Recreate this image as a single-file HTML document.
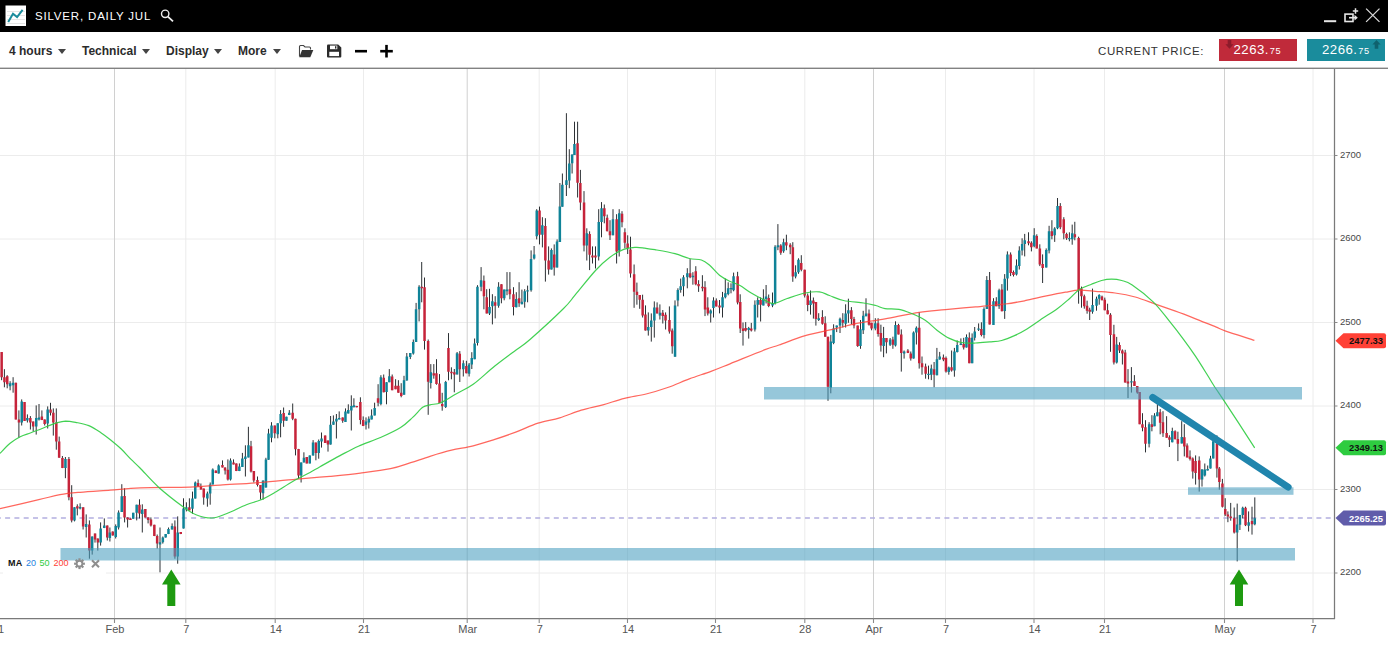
<!DOCTYPE html>
<html><head><meta charset="utf-8"><title>Silver chart</title>
<style>
html,body{margin:0;padding:0;background:#fff;}
body{width:1388px;height:646px;position:relative;overflow:hidden;font-family:"Liberation Sans",sans-serif;}
.titlebar{position:absolute;left:0;top:0;width:1388px;height:32px;background:#000;}
.title{position:absolute;left:35px;top:9px;font-size:11.5px;line-height:14px;color:#fff;letter-spacing:0.82px;white-space:nowrap;}
.toolbar{position:absolute;left:0;top:32px;width:1388px;height:35px;background:#fff;border-bottom:1px solid #cdcdcd;box-shadow:0 1px 0 #828282;}
.tb{position:absolute;top:12px;font-size:12px;line-height:14px;font-weight:bold;color:#2b2b2b;white-space:nowrap;}
.caret{position:absolute;top:16.5px;width:0;height:0;border-left:4.3px solid transparent;border-right:4.3px solid transparent;border-top:5px solid #444;}
.cp{position:absolute;left:1098px;top:12px;font-size:11.5px;line-height:14px;color:#333;letter-spacing:0.6px;white-space:nowrap;}
.pbox{position:absolute;top:39px;height:22px;width:78px;color:#fff;}
.pbox span{position:absolute;white-space:nowrap;}
.yl{font-size:9.5px;fill:#484848;font-family:"Liberation Sans",sans-serif;}
.xl{font-size:11px;fill:#555;font-family:"Liberation Sans",sans-serif;}
.pt{font-size:9.4px;font-weight:bold;font-family:"Liberation Sans",sans-serif;}
.legend{position:absolute;left:3px;top:561px;width:103px;height:14px;background:#fff;font-size:9px;line-height:10px;}
.legend span{position:absolute;top:-3.3px;white-space:nowrap;}
</style></head><body>
<svg width="1388" height="646" viewBox="0 0 1388 646" style="position:absolute;left:0;top:0">
<path d="M0 155.5H1334.5M0 239H1334.5M0 322.5H1334.5M0 406H1334.5M0 489.5H1334.5M0 573H1334.5" stroke="#ececec" stroke-width="1" fill="none"/>
<path d="M185.8 69V618.5M275.2 69V618.5M363.5 69V618.5M539.2 69V618.5M627.5 69V618.5M715.5 69V618.5M804.8 69V618.5M945.5 69V618.5M1034 69V618.5M1104.5 69V618.5M1313 69V618.5" stroke="#ececec" stroke-width="1" fill="none"/>
<path d="M114.5 69V618.5M467.2 69V618.5M873.5 69V618.5M1224.5 69V618.5" stroke="#d0d0d0" stroke-width="1" fill="none"/>
<path d="M0 518H1334.5" stroke="#b3aee0" stroke-width="1.3" stroke-dasharray="5 4.3" stroke-dashoffset="4.2" fill="none"/>
<path d="M1.6 352.1V380.2M4.4 369.2V387.3M7.2 375.2V388.3M10.1 381.2V390.3M13.1 377.2V392.7M15.9 382.7V419.5M18.9 410.4V437.6M21.7 399.4V425.5M24.5 402V420.9M27.4 414.4V422.5M30.4 416.1V429.5M33.2 421.5V431.5M36.2 405.4V434.6M39 404V420.5M41.9 410.4V420.1M44.7 419.5V425.5M47.7 406.4V428.5M50.5 402.8V415.5M53.3 408.4V435.6M56.3 408.4V449.7M59.2 436.6V457.7M62.4 456V468.1M65.4 457V478.2M68.9 457V500.3M71.7 485.2V522.4M74.5 507.3V521.4M77.3 504.3V515.4M80.1 503.3V509.4M83.1 507.3V529.5M86.2 514.4V537.5M89.4 520.4V558.7M92.2 536.5V554.6M95 533.5V542.6M97.8 538.5V550.6M100.6 522.4V545.6M104.3 518.4V528.1M107.3 525.5V540.5M109.9 527.5V541.5M112.7 531.5V535.5M115.7 524.4V538.5M118.6 510.4V529.5M121.8 484.2V512M124.6 488.2V522.4M127.6 517.4V527.5M130.4 518.4V520M133.2 512.8V518.8M136.7 504.7V520.4M139.5 499.3V518.4M142.3 504.3V532.5M145.3 509V517.4M148.1 517.4V523.4M150.9 517.4V526.5M154.4 524.8V536.1M157.2 534.5V548.6M160 527.5V572.3M162.8 536.5V543.6M165.6 534.1V537.5M168.5 527.5V534.1M172.1 523.4V529.5M174.9 520.4V558.7M177.7 516.4V563.7M180.7 532.1V534.1M183.5 498.3V528.5M186.4 502.3V511.4M189.4 498.3V510.4M192.5 491.6V513.7M195.3 481.5V498.6M198.1 479.5V486.5M200.9 483.5V489.6M203.7 488.6V504.7M207.4 491.6V506.7M210.2 482.5V504.7M212.8 468.4V484.5M215.8 470.5V473.1M218.6 464.4V473.5M222.5 460.4V467.4M225.1 467.4V474.5M227.9 459.4V480.5M230.5 458.4V480.5M233.5 459.4V464.4M236.3 463.4V471.1M239.4 463.4V471.1M242.4 452.9V467M245.4 445.3V476.5M248.4 426.8V457.4M251 440.9V472.5M253.8 471.1V482.5M257.5 476.5V486.5M260.5 485.1V499.6M263.1 480.5V499.6M265.9 457.8V487.6M268.5 428.8V459.8M271.5 422.2V442.3M274.8 425.6V438.3M277.8 423.2V438.3M280.6 410.1V437.3M283.6 407.5V426.8M286.4 416.7V420.8M289.3 410.1V415.1M292.7 403.5V420.2M295.5 418.7V455.4M298.5 448.9V478.5M301.1 462.4V482.5M303.9 452.3V462.4M306.8 457V463.4M309.8 455.4V463.4M313.1 440.1V455.6M315.9 442.6V460.3M318.7 439.5V458.7M321.5 432.5V447.6M325.2 435.5V443M328 440.5V451.6M330.6 416V444.6M333.4 415.4V424.8M336.4 414V438.5M339.2 411.4V419.4M342.7 417.4V422.8M345.5 408.4V422M348.3 404.3V413.4M351.3 395.3V430.5M353.9 398.3V407.3M356.7 405.9V407.3M360.4 397.3V424.4M363.2 416.4V426.1M366 417.4V429.5M368.8 416.4V428.5M371.6 409.4V419.4M374.6 402.7V415.4M378.1 384.2V406.3M380.9 375.2V405.3M383.7 374.5V392.3M386.5 382.2V404.3M389.3 369.1V382.2M392.2 374.5V390.2M395.6 379.2V389.2M398.4 380.2V392.7M401.2 383.2V397.3M404 375.8V394.7M406.8 353V380.6M410.3 353V359.1M413.3 339.5V354.6M416.1 302.9V341.9M419.1 285.2V321.4M421.7 262V302.3M424.5 277.5V349.6M428.2 339.5V414.8M430.8 364.1V388.5M433.8 364.1V378.7M436.5 359.2V384.7M439.5 374.1V403.1M442.2 392.8V410.7M445.7 380.9V408M448.5 333.1V380.3M451.4 367.3V379.3M454.3 369V392.3M457.1 352V374.4M459.8 351.1V382M463.3 360.3V376.5M466.4 360.8V373.3M469.1 363V376.5M471.8 352.2V369M474.6 338.5V359.2M477.5 285.2V345.5M481.1 267.1V291.2M483.9 275.5V309.3M486.7 289.2V313.4M489.5 288.8V315M492.4 294.2V324.4M495.2 296.2V318.4M498.6 282.2V307.7M501.4 284.2V303.3M504.2 289.6V300.3M507 272.1V295.2M509.9 272.1V299.3M513.5 287.2V315.4M516.3 292.2V307.3M519.1 282.2V306.9M521.9 289.6V304.3M524.7 289.2V307.7M527.6 285.6V302.3M531.1 250.4V291.7M534.1 246V259.5M536.7 209.2V239.4M539.5 206.6V244.4M542.4 217.2V247.4M545.4 218.2V281.6M548.6 246.4V274.6M551.4 248.4V269.5M554.2 244.4V275.6M557.1 239.4V267.5M559.9 183V242M562.4 173.5V206.7M566.4 113.2V196M569.3 149.2V188.2M572.1 154.5V173.5M574.5 121.7V155M577.6 121.7V197.5M580.4 169.9V210.2M584 191.1V251.4M586.8 228.3V260.5M589.6 231.3V270.1M592.5 246.4V263.5M595.5 246.4V268.5M598.7 209.2V260.5M601.5 202.1V237.3M604.3 204.5V223.3M607.2 214.6V231.3M610 220.2V240M613 209.2V235.3M616.6 214.2V263.5M619.2 209.2V256.5M622 211.2V227.3M624.9 228.3V248.4M627.7 235.3V254M630.5 236.7V277.6M634.1 264.5V307.8M636.9 282.6V304.7M639.7 295.1V308.8M642.6 294.7V317.5M645.5 305.4V330.5M648.3 312.4V335.6M651.3 313.4V341.6M654.3 301.4V337.6M657.1 302.4V313.4M659.9 304.4V319.5M662.8 310V323.5M665.6 312.4V329.5M669.4 306.4V333.6M672.2 328.5V353.7M675 300.4V356.7M677.9 288.3V306.4M680.7 278.6V292.7M683.5 275.2V296.3M687.3 268.2V288.3M690.1 259.1V278.2M692.9 272.2V284.7M695.8 266.2V285.3M698.6 280.2V291.9M702.4 275.2V291.3M705 281.2V316.1M707.8 297.3V315.5M710.7 309.4V322.5M713.5 297.3V317.5M716.3 298.4V306.4M719.5 300V313.4M722.5 291.9V317.5M725.3 278.6V298.4M728.2 282.3V295.3M731 283.3V293.3M733.6 272.6V291.3M737.6 271.8V304.4M740.2 294.3V333M743 322.5V345.6M745.7 322.1V331.5M748.7 326.9V338.6M751.3 322.9V331.5M754.9 300.4V331.5M757.7 297.3V317.5M760.6 297.3V321.5M763.4 289.3V305.4M766.1 285V303.5M768.7 294.5V307.2M772.5 292.5V307.2M775.1 245.2V304.5M777.9 224.1V250.2M780.8 244.2V254.8M783.6 238.7V252.8M786.4 234.7V250.2M790.2 243.2V254.2M792.8 242.2V281.8M795.6 265.3V278.4M798.5 258.3V273.8M801.3 255.2V271.3M804.7 269.7V297.5M807.7 293.5V311.2M810.5 290.5V314.6M813.4 297.5V318.6M815.9 302.1V325.6M818.7 313.2V321M822.4 310.2V324.7M825.2 316.3V336.7M828 336.7V400.8M830.8 334.9V393.3M833.6 324.3V344.2M836.7 325.6V332.1M840 317.6V333M842.8 313.2V327.5M845.6 304.3V327.5M848.4 298.7V322.8M851.4 307.1V324.3M854 316.9V328.4M857.7 325.6V346.9M860.5 320V348.8M863.2 310.8V334M866 298.3V316.3M869 309.5V325.6M871.6 322.8V330.3M875.3 318.2V330.3M878.1 318.2V336.7M880.9 324.7V351.6M883.6 326.9V357.2M886.4 338V353.4M890.1 338V346M892.9 336.7V348.8M895.5 321.3V346.5M898.5 323.8V334.4M901.3 329.4V371.6M904.1 350.5V358.6M907.9 349.1V353.1M910.8 351.5V360.6M913.6 331.4V358.6M916.4 326.4V344.5M919.2 312.3V368.6M922 356.5V374.7M925.6 363.6V378.7M928.5 365.6V379.3M931.3 364.6V380.1M934.1 362V387.3M936.9 347.9V375.3M939.7 351.9V359.6M943.4 354.5V361.2M946 356.5V372.6M948.8 366.6V374.7M951.6 350.5V371.6M954.4 347.9V376.7M957.2 340.5V352.5M960.9 338.4V345.1M963.7 337.8V349.5M966.5 334.4V347.5M969.3 332.4V363.2M972.1 333.4V363.2M974.7 327V340.5M978.6 323.4V331M981.4 322.3V336.4M984 307.3V338.4M986.8 276.1V308.9M989.6 272V324.4M993.5 298.2V325M996.3 297.2V306.2M999.1 288.7V308.9M1001.9 284.1V311.3M1004.7 274.1V318.9M1007.4 251.4V290.6M1010.6 252.4V276.1M1013.5 270.5V276.5M1016.5 259.4V275.5M1019.3 246.3V269.5M1022.1 238.3V255.4M1024.7 233.9V256.4M1028.5 232.3V245.3M1031.4 241.3V251.4M1034.2 228.2V247.3M1036.8 234.3V248.4M1039.8 244.3V266.1M1042.6 254.4V283M1046.2 248.4V267.5M1049.1 225.8V253.4M1051.9 220.2V239.3M1054.7 227.2V241.9M1057.5 198V229.2M1060.3 203.1V229.2M1063.8 217.2V239.3M1066.6 232.7V239.9M1069.4 232.3V241.3M1072.2 224.6V244.7M1074.8 221.8V240.3M1078.6 236.7V303.7M1081.5 286.6V307.7M1084.3 294.6V308.7M1087.1 300.7V313.7M1089.7 307.7V320M1092.5 288.6V313.7M1096.5 296.6V310.7M1099.2 294.2V304.7M1102 295.6V300.3M1104.8 297.6V310.3M1107.6 303.7V314.3M1110.5 313.2V351.8M1113.9 324.8V364.5M1116.7 336.9V363.5M1119.5 342.3V353M1122.4 349.4V364.5M1125.2 349.8V382.6M1128 369.1V398.1M1131.4 367.1V392.6M1134.4 375.1V386M1137.3 386V393.7M1139.7 392V424.2M1142.5 413.2V431.3M1145.5 420.2V452.4M1149.1 422.2V447.4M1151.9 415.2V431.3M1154.5 413.2V426.2M1157.4 404.1V416.2M1160.2 409.1V434.3M1163 411.2V436.9M1166.6 416.2V437.7M1169.4 435.3V447M1172.3 427.7V442.3M1175.1 430.3V439.3M1177.9 431.7V461.1M1181.7 421.2V443.4M1184.3 424.2V456.4M1187.1 443.4V457.4M1190 450.4V460.5M1192.8 457.4V478.6M1195.6 455.4V484.6M1199.2 456.4V491.6M1202 469.1V486.6M1204.8 463.5V476.5M1207.7 465.5V470.5M1210.5 455.8V468.5M1213.3 440.3V458.4M1216.9 435.3V477.6M1219.3 467V489.7M1222.4 478.9V507.5M1225.2 498.2V516M1227.9 511.4V522.2M1230.7 502.9V520.7M1234.2 507.5V533.5M1237.2 503.6V561.4M1239.9 514.9V530M1242.7 506.7V518.3M1245.5 506.7V526.1M1248.6 511.4V531.5M1252 506.7V534.6M1254.8 497.4V525.3" stroke="#2c3034" stroke-width="1" fill="none"/>
<path d="M0.4 352.1h2.5V377.2h-2.5zM3.2 377.2h2.5V382.3h-2.5zM6 376.2h2.5V384.3h-2.5zM14.6 382.7h2.5V419.5h-2.5zM17.7 419.5h2.5V422.5h-2.5zM23.3 402h2.5V420.9h-2.5zM29.1 418.1h2.5V422.5h-2.5zM31.9 421.5h2.5V426.5h-2.5zM40.6 416.5h2.5V420.1h-2.5zM43.4 419.5h2.5V424.1h-2.5zM49.3 409.4h2.5V412.8h-2.5zM52.1 412.8h2.5V422.5h-2.5zM55.1 422.5h2.5V441.6h-2.5zM57.9 441.6h2.5V457.7h-2.5zM61.2 458h2.5V468.1h-2.5zM67.6 459.1h2.5V497.3h-2.5zM70.4 497.3h2.5V520.4h-2.5zM76.1 506.3h2.5V508.4h-2.5zM81.9 507.3h2.5V526.5h-2.5zM88.1 524.4h2.5V550.6h-2.5zM93.8 533.5h2.5V539.5h-2.5zM96.6 538.5h2.5V542.6h-2.5zM106 525.5h2.5V537.5h-2.5zM111.5 531.5h2.5V535.5h-2.5zM123.3 495.9h2.5V517.4h-2.5zM126.4 517.4h2.5V519.4h-2.5zM129.2 518.4h2.5V520h-2.5zM138.2 504.7h2.5V513.4h-2.5zM144.1 509h2.5V517.4h-2.5zM146.9 517.4h2.5V520h-2.5zM149.7 519.4h2.5V525.5h-2.5zM153.1 524.8h2.5V536.1h-2.5zM155.9 536.1h2.5V543.6h-2.5zM173.6 526.5h2.5V556.6h-2.5zM179.5 532.1h2.5V534.1h-2.5zM188.1 507.3h2.5V510.4h-2.5zM196.9 483.1h2.5V486.5h-2.5zM199.7 486.5h2.5V489.6h-2.5zM202.5 488.6h2.5V497.6h-2.5zM214.6 470.5h2.5V473.1h-2.5zM221.2 465h2.5V467.4h-2.5zM223.8 467.4h2.5V470.5h-2.5zM226.6 469.8h2.5V479.5h-2.5zM232.3 462.4h2.5V464.4h-2.5zM235.1 463.4h2.5V471.1h-2.5zM249.8 446.3h2.5V471.5h-2.5zM252.6 471.1h2.5V480.5h-2.5zM256.2 479.9h2.5V485.1h-2.5zM259.2 485.1h2.5V492.6h-2.5zM273.5 425.6h2.5V433.2h-2.5zM282.4 413.1h2.5V420.8h-2.5zM291.4 412.7h2.5V418.7h-2.5zM294.2 418.7h2.5V449.3h-2.5zM297.3 448.9h2.5V475.5h-2.5zM305.5 457h2.5V463.4h-2.5zM314.6 442.6h2.5V453h-2.5zM323.9 435.5h2.5V443h-2.5zM326.7 440.5h2.5V444.6h-2.5zM341.4 417.4h2.5V420.8h-2.5zM355.5 405.9h2.5V407.3h-2.5zM359.1 401.9h2.5V420h-2.5zM361.9 420h2.5V426.1h-2.5zM376.8 398.3h2.5V402.7h-2.5zM382.5 377.8h2.5V392.3h-2.5zM390.9 376.6h2.5V390.2h-2.5zM394.3 385.8h2.5V389.2h-2.5zM397.1 385.8h2.5V392.7h-2.5zM400 392.7h2.5V395.9h-2.5zM420.5 286.8h2.5V288.2h-2.5zM423.3 287.2h2.5V341.1h-2.5zM426.9 341.1h2.5V381.8h-2.5zM432.5 373.3h2.5V375.5h-2.5zM435.2 373.3h2.5V384.1h-2.5zM438.3 383.6h2.5V403.1h-2.5zM441 404h2.5V406.3h-2.5zM447.2 348h2.5V371.7h-2.5zM450.2 371.7h2.5V373.3h-2.5zM453.1 372.2h2.5V374.4h-2.5zM458.5 353.8h2.5V369.3h-2.5zM465.1 366h2.5V373.3h-2.5zM482.7 280.8h2.5V296.2h-2.5zM485.5 297.3h2.5V313.4h-2.5zM493.9 302.3h2.5V305.7h-2.5zM500.2 284.2h2.5V298.3h-2.5zM508.6 289.2h2.5V294.2h-2.5zM512.2 294.2h2.5V306.9h-2.5zM517.9 298.3h2.5V303.3h-2.5zM538.3 210.6h2.5V234.7h-2.5zM544.1 225.9h2.5V260.5h-2.5zM547.4 260.5h2.5V269.5h-2.5zM553 254.4h2.5V267.5h-2.5zM576.3 143.3h2.5V182.8h-2.5zM579.1 183h2.5V202.5h-2.5zM582.8 202.5h2.5V245.4h-2.5zM588.4 233.9h2.5V254.8h-2.5zM591.2 255.5h2.5V257.5h-2.5zM594.2 255.5h2.5V257.5h-2.5zM603.1 208.2h2.5V216.2h-2.5zM605.9 217.8h2.5V231.3h-2.5zM608.7 231.3h2.5V235.3h-2.5zM615.4 219.2h2.5V251.4h-2.5zM620.8 213.8h2.5V222.3h-2.5zM623.6 232.3h2.5V242.8h-2.5zM626.4 243.4h2.5V248h-2.5zM629.2 249.4h2.5V273.6h-2.5zM632.9 274.2h2.5V291.7h-2.5zM635.7 291.7h2.5V295.1h-2.5zM638.5 295.1h2.5V299.7h-2.5zM641.4 299.8h2.5V315.5h-2.5zM644.2 314.4h2.5V330.5h-2.5zM655.9 307.4h2.5V313.4h-2.5zM661.5 312.8h2.5V316.1h-2.5zM664.3 314.8h2.5V320.5h-2.5zM668.2 320.1h2.5V331.5h-2.5zM671 330.5h2.5V346.2h-2.5zM688.9 273.2h2.5V277.2h-2.5zM694.5 271.2h2.5V284.3h-2.5zM697.3 283.9h2.5V286.3h-2.5zM701.2 286.7h2.5V288.3h-2.5zM703.8 287.3h2.5V309.4h-2.5zM706.6 307.4h2.5V313.4h-2.5zM715 300.4h2.5V306.4h-2.5zM718.3 305.4h2.5V307.4h-2.5zM736.4 276.2h2.5V302.4h-2.5zM739 302h2.5V328.5h-2.5zM741.8 328.5h2.5V330.9h-2.5zM744.4 328.1h2.5V330.5h-2.5zM750 328.5h2.5V330.5h-2.5zM759.3 300h2.5V304.8h-2.5zM767.4 297.9h2.5V305.9h-2.5zM779.5 245.6h2.5V252.8h-2.5zM785.1 242.2h2.5V245.6h-2.5zM789 244.8h2.5V247.2h-2.5zM791.6 247.2h2.5V276.4h-2.5zM800 262.9h2.5V269.7h-2.5zM803.4 269.7h2.5V295.5h-2.5zM806.5 295.5h2.5V305.1h-2.5zM812.1 300.5h2.5V303.5h-2.5zM814.7 302.1h2.5V319.1h-2.5zM821.2 316.9h2.5V323.8h-2.5zM824 323.2h2.5V336.7h-2.5zM826.7 336.7h2.5V386.8h-2.5zM841.6 320h2.5V322.8h-2.5zM850.1 310.2h2.5V319.1h-2.5zM852.7 319.1h2.5V325.6h-2.5zM856.4 325.6h2.5V346h-2.5zM867.7 313.6h2.5V324.7h-2.5zM870.3 322.8h2.5V328.4h-2.5zM876.8 323.2h2.5V334h-2.5zM879.6 333h2.5V345.5h-2.5zM885.2 338h2.5V342.3h-2.5zM891.7 339.5h2.5V344.7h-2.5zM897.2 325h2.5V334.4h-2.5zM900 334.4h2.5V353.1h-2.5zM906.7 350.5h2.5V353.1h-2.5zM909.5 353.5h2.5V358.6h-2.5zM918 327.8h2.5V363.2h-2.5zM920.8 363.2h2.5V367.2h-2.5zM924.4 366.6h2.5V373.7h-2.5zM932.8 369.2h2.5V374.7h-2.5zM942.1 357.6h2.5V359.6h-2.5zM944.7 358h2.5V371.6h-2.5zM950.3 367.2h2.5V370.6h-2.5zM962.4 343.9h2.5V347.5h-2.5zM968.1 337.8h2.5V363.2h-2.5zM980.1 329h2.5V335h-2.5zM988.4 280.1h2.5V324.4h-2.5zM995 301.2h2.5V306.2h-2.5zM1000.7 289.5h2.5V311.3h-2.5zM1009.4 254.4h2.5V272.9h-2.5zM1012.2 272.1h2.5V274.9h-2.5zM1027.3 241.3h2.5V243.3h-2.5zM1030.1 242.7h2.5V247.3h-2.5zM1035.5 235.9h2.5V248.4h-2.5zM1038.6 248.4h2.5V264.4h-2.5zM1041.4 264h2.5V268.1h-2.5zM1050.6 231.2h2.5V235.9h-2.5zM1059.1 206.1h2.5V227.2h-2.5zM1062.5 219.2h2.5V233.3h-2.5zM1065.3 233.9h2.5V238.3h-2.5zM1073.6 234.3h2.5V237.3h-2.5zM1077.4 237.9h2.5V290.2h-2.5zM1080.2 288.6h2.5V296.2h-2.5zM1083 296.2h2.5V306.3h-2.5zM1085.8 305.7h2.5V310.7h-2.5zM1088.5 309.7h2.5V311.7h-2.5zM1100.7 296.6h2.5V300.3h-2.5zM1103.5 299.7h2.5V310.3h-2.5zM1106.4 310.3h2.5V314.3h-2.5zM1109.2 314.8h2.5V334.9h-2.5zM1112.7 334.3h2.5V362.5h-2.5zM1118.3 345h2.5V350.4h-2.5zM1121.1 350.4h2.5V353.4h-2.5zM1123.9 352.4h2.5V382.6h-2.5zM1126.7 381.6h2.5V383.6h-2.5zM1133.2 381.2h2.5V386h-2.5zM1136 386h2.5V392.6h-2.5zM1138.4 392h2.5V424.2h-2.5zM1141.2 424.2h2.5V427.7h-2.5zM1144.2 427.3h2.5V443.8h-2.5zM1150.7 424.2h2.5V426.9h-2.5zM1158.9 412.2h2.5V422.8h-2.5zM1161.7 422.2h2.5V433.3h-2.5zM1165.4 432.9h2.5V437.7h-2.5zM1168.2 437.3h2.5V439.7h-2.5zM1173.8 431.3h2.5V439.3h-2.5zM1176.6 438.9h2.5V443.8h-2.5zM1183.1 437.3h2.5V446.4h-2.5zM1185.9 445.4h2.5V457.4h-2.5zM1188.7 456.4h2.5V459h-2.5zM1191.5 458.4h2.5V471.5h-2.5zM1194.3 461.1h2.5V473.1h-2.5zM1198 460.5h2.5V479.6h-2.5zM1215.7 443.8h2.5V468.5h-2.5zM1218.1 468.5h2.5V482h-2.5zM1221.2 483.5h2.5V506.7h-2.5zM1224 509.1h2.5V514.5h-2.5zM1226.6 514.5h2.5V516.5h-2.5zM1229.4 516.5h2.5V518.3h-2.5zM1233 518.3h2.5V532.6h-2.5zM1244.3 507.8h2.5V525.3h-2.5zM1250.8 521.1h2.5V524.2h-2.5z" fill="#c6233a"/>
<path d="M8.8 383.3h2.5V386.3h-2.5zM11.8 382.7h2.5V385.3h-2.5zM20.5 401.4h2.5V422.5h-2.5zM26.1 418.1h2.5V420.5h-2.5zM35 418.1h2.5V426.5h-2.5zM37.8 417.5h2.5V419.5h-2.5zM46.4 409.4h2.5V423.5h-2.5zM64.2 459.1h2.5V468.1h-2.5zM73.2 507.3h2.5V520.4h-2.5zM78.9 506.9h2.5V508.4h-2.5zM84.9 524h2.5V526.9h-2.5zM90.9 536.5h2.5V550.6h-2.5zM99.4 528.5h2.5V542.6h-2.5zM103 525.5h2.5V528.1h-2.5zM108.6 532.5h2.5V538.1h-2.5zM114.5 526.1h2.5V536.9h-2.5zM117.3 512.4h2.5V527.5h-2.5zM120.5 496.3h2.5V512h-2.5zM132 512.8h2.5V518.8h-2.5zM135.4 504.7h2.5V512.8h-2.5zM141 509.4h2.5V514h-2.5zM158.8 542.2h2.5V544.6h-2.5zM161.6 537.5h2.5V542.2h-2.5zM164.4 534.1h2.5V537.5h-2.5zM167.2 529.1h2.5V534.1h-2.5zM170.8 526.1h2.5V529.5h-2.5zM176.5 532.5h2.5V556.6h-2.5zM182.3 508.4h2.5V528.5h-2.5zM185.1 507.3h2.5V509.4h-2.5zM191.2 498.6h2.5V508.7h-2.5zM194 482.5h2.5V498.6h-2.5zM206.1 493.6h2.5V498.6h-2.5zM208.9 484.5h2.5V493.6h-2.5zM211.5 469.4h2.5V484.5h-2.5zM217.4 465.4h2.5V473.5h-2.5zM229.3 460.4h2.5V479.5h-2.5zM238.1 466.4h2.5V471.1h-2.5zM241.1 458.4h2.5V467h-2.5zM244.1 456.4h2.5V459h-2.5zM247.2 445.3h2.5V457.4h-2.5zM261.8 480.5h2.5V493.2h-2.5zM264.7 459.4h2.5V487.6h-2.5zM267.3 433.6h2.5V459.8h-2.5zM270.3 425.6h2.5V437.7h-2.5zM276.5 423.2h2.5V434.2h-2.5zM279.4 414.1h2.5V423.2h-2.5zM285.2 416.7h2.5V420.8h-2.5zM288 412.7h2.5V415.1h-2.5zM299.9 462.4h2.5V475.5h-2.5zM302.7 457.8h2.5V462.4h-2.5zM308.5 455.4h2.5V463.4h-2.5zM311.8 442.6h2.5V455.6h-2.5zM317.5 440.9h2.5V453h-2.5zM320.3 438.5h2.5V441.5h-2.5zM329.3 424.8h2.5V444.6h-2.5zM332.2 421.4h2.5V424.8h-2.5zM335.2 418.8h2.5V421.4h-2.5zM338 418h2.5V419.4h-2.5zM344.2 411.4h2.5V422h-2.5zM347 410h2.5V413.4h-2.5zM350.1 405.9h2.5V410.4h-2.5zM352.7 405.3h2.5V407.3h-2.5zM364.7 421.4h2.5V424.8h-2.5zM367.6 418.8h2.5V422.4h-2.5zM370.4 415.4h2.5V419.4h-2.5zM373.4 407.9h2.5V415.4h-2.5zM379.6 377.2h2.5V403.9h-2.5zM385.3 382.2h2.5V391.9h-2.5zM388.1 376.2h2.5V382.2h-2.5zM402.8 380.2h2.5V394.7h-2.5zM405.6 356.4h2.5V380.6h-2.5zM409 353h2.5V357h-2.5zM412 341.9h2.5V353.6h-2.5zM414.8 309.3h2.5V341.9h-2.5zM417.9 286.8h2.5V309.3h-2.5zM429.6 372.2h2.5V383h-2.5zM444.4 382h2.5V406.9h-2.5zM455.8 353.3h2.5V374.4h-2.5zM462.1 363.2h2.5V369.3h-2.5zM467.8 364.6h2.5V373.8h-2.5zM470.5 358.1h2.5V364.6h-2.5zM473.4 343.5h2.5V359.2h-2.5zM476.2 286.8h2.5V343.1h-2.5zM479.8 280.2h2.5V286.8h-2.5zM488.3 306.9h2.5V313.4h-2.5zM491.1 301.3h2.5V306.3h-2.5zM497.3 286.8h2.5V305.7h-2.5zM503 289.6h2.5V298.3h-2.5zM505.8 289.6h2.5V291.2h-2.5zM515 298.9h2.5V307.3h-2.5zM520.7 301.7h2.5V304.3h-2.5zM523.5 291.2h2.5V301.7h-2.5zM526.3 290.2h2.5V291.6h-2.5zM529.8 258.9h2.5V290.3h-2.5zM532.9 254.4h2.5V258.5h-2.5zM535.5 210.6h2.5V236.3h-2.5zM541.1 225.3h2.5V234.7h-2.5zM550.2 250h2.5V269.5h-2.5zM555.8 241.4h2.5V267.5h-2.5zM558.6 206.6h2.5V242h-2.5zM561.1 184.8h2.5V206.7h-2.5zM565.2 180.2h2.5V185.1h-2.5zM568.1 163.5h2.5V180.5h-2.5zM570.9 154.5h2.5V163.2h-2.5zM573.2 144.1h2.5V155h-2.5zM585.6 233.3h2.5V245.4h-2.5zM597.5 221.9h2.5V256.5h-2.5zM600.3 208.2h2.5V221.9h-2.5zM611.7 219.2h2.5V235.3h-2.5zM618 213.2h2.5V250.4h-2.5zM647 326.9h2.5V330.5h-2.5zM650 320.5h2.5V326.9h-2.5zM653.1 307.4h2.5V320.5h-2.5zM658.7 312.8h2.5V315.5h-2.5zM673.8 305.4h2.5V356.7h-2.5zM676.6 289.9h2.5V300.4h-2.5zM679.4 286.3h2.5V289.9h-2.5zM682.2 277.2h2.5V286.3h-2.5zM686.1 273.2h2.5V277.2h-2.5zM691.7 275.8h2.5V277.2h-2.5zM709.4 310.4h2.5V313.4h-2.5zM712.2 300.4h2.5V308h-2.5zM721.3 297.3h2.5V307.4h-2.5zM724.1 293.3h2.5V297.3h-2.5zM726.9 288.3h2.5V293.9h-2.5zM729.7 287.9h2.5V289.3h-2.5zM732.3 276.2h2.5V290.3h-2.5zM747.4 328.1h2.5V330.1h-2.5zM753.7 304.8h2.5V329.5h-2.5zM756.5 300h2.5V304.8h-2.5zM762.1 298.8h2.5V305.4h-2.5zM764.8 296.5h2.5V299.1h-2.5zM771.3 303.1h2.5V305.5h-2.5zM773.9 246.8h2.5V303.1h-2.5zM776.7 245.2h2.5V247.2h-2.5zM782.3 242.2h2.5V251.2h-2.5zM794.4 272.3h2.5V276.4h-2.5zM797.2 259.7h2.5V272.3h-2.5zM809.3 300.5h2.5V305.1h-2.5zM817.5 318.2h2.5V320h-2.5zM829.5 341.4h2.5V387.8h-2.5zM832.3 328.4h2.5V342.9h-2.5zM835.5 325.6h2.5V327.5h-2.5zM838.8 318.7h2.5V325.6h-2.5zM844.4 313.6h2.5V323.8h-2.5zM847.1 310.2h2.5V313.6h-2.5zM859.2 329.3h2.5V346h-2.5zM862 315.8h2.5V330.3h-2.5zM864.8 313.6h2.5V316.3h-2.5zM874 323.2h2.5V328.4h-2.5zM882.4 338h2.5V346h-2.5zM888.9 339.5h2.5V344.7h-2.5zM894.2 325h2.5V345.5h-2.5zM902.9 351.5h2.5V353.5h-2.5zM912.3 332.4h2.5V358.6h-2.5zM915.1 327.8h2.5V332.4h-2.5zM927.2 373.7h2.5V374.9h-2.5zM930 368.6h2.5V374.7h-2.5zM935.7 359.2h2.5V375.3h-2.5zM938.5 356.5h2.5V359.6h-2.5zM947.5 367.6h2.5V372h-2.5zM953.2 351.5h2.5V370.6h-2.5zM956 345.1h2.5V351.9h-2.5zM959.6 343.5h2.5V345.1h-2.5zM965.2 337h2.5V347.5h-2.5zM970.9 337.8h2.5V363.2h-2.5zM973.5 331.4h2.5V337.8h-2.5zM977.3 328.4h2.5V329.8h-2.5zM982.7 308.9h2.5V335h-2.5zM985.6 280.1h2.5V308.9h-2.5zM992.2 301.2h2.5V325h-2.5zM997.8 290.2h2.5V306.2h-2.5zM1003.5 278.7h2.5V310.9h-2.5zM1006.2 254.4h2.5V278.5h-2.5zM1015.2 265.5h2.5V274.5h-2.5zM1018 250.4h2.5V266.1h-2.5zM1020.9 243.9h2.5V250.4h-2.5zM1023.5 240.3h2.5V243.9h-2.5zM1032.9 235.3h2.5V246.3h-2.5zM1045 250h2.5V267.5h-2.5zM1047.8 231.2h2.5V250.4h-2.5zM1053.4 228.6h2.5V235.3h-2.5zM1056.3 206.1h2.5V228.2h-2.5zM1068.1 237.9h2.5V239.3h-2.5zM1071 233.3h2.5V239.3h-2.5zM1091.3 305.1h2.5V311.7h-2.5zM1095.3 298.7h2.5V305.7h-2.5zM1097.9 295h2.5V298.7h-2.5zM1115.5 344.4h2.5V362.5h-2.5zM1130.2 381.2h2.5V382.6h-2.5zM1147.9 424.2h2.5V443.8h-2.5zM1153.3 415.6h2.5V426.2h-2.5zM1156.1 412.2h2.5V416.2h-2.5zM1171 430.9h2.5V442.3h-2.5zM1180.5 436.9h2.5V443.4h-2.5zM1200.8 469.5h2.5V479.6h-2.5zM1203.6 469.5h2.5V475.5h-2.5zM1206.4 469.1h2.5V470.5h-2.5zM1209.2 458.4h2.5V468.5h-2.5zM1212 441.3h2.5V458.4h-2.5zM1235.9 524.5h2.5V532.6h-2.5zM1238.7 514.9h2.5V524.8h-2.5zM1241.5 507.8h2.5V514.9h-2.5zM1247.4 522.2h2.5V525.8h-2.5zM1253.5 518.3h2.5V524.2h-2.5z" fill="#0f8398"/>
<path d="M0 508.6C6.5 507.1 28.8 502 38.8 499.7C48.8 497.4 53.1 495.9 60 494.7C66.9 493.5 71.6 493.1 80 492.3C88.4 491.6 100.2 490.9 110.3 490.2C120.4 489.4 127.2 488.3 140.5 487.8C153.8 487.3 176.8 487.6 190 487.2C203.2 486.8 208.2 485.9 220 485.1C231.8 484.3 247.2 483.6 260.5 482.5C273.8 481.4 288.4 479.8 300 478.8C311.6 477.8 319.9 477.3 330 476.4C340.1 475.4 350.3 474.4 360.4 473.1C370.5 471.8 382.1 470.4 390.5 468.7C398.9 467 404.1 464.8 410.7 462.7C417.3 460.6 423.2 458.4 430 456.3C436.8 454.2 444.4 451.9 451.6 450.2C458.8 448.5 466 447.7 473.2 445.9C480.4 444.1 487.6 441.7 494.8 439.4C502 437.1 509.2 434.6 516.4 431.9C523.6 429.2 530.8 425.5 538 423.2C545.2 420.9 552.5 420 559.7 417.8C566.9 415.6 574.1 412.4 581.3 410.2C588.5 408 595.7 406.8 602.9 404.8C610.1 402.8 617.3 400.2 624.5 398.4C631.7 396.6 638.9 395.8 646.1 394C653.3 392.2 660.5 390 667.7 387.5C674.9 385 682.1 381.6 689.3 378.9C696.5 376.2 704.2 373.8 711 371.3C717.8 368.8 721 367.4 730 363.8C739 360.2 756.8 352.8 765 349.7C773.2 346.6 772.3 347.3 779 345C785.7 342.7 795.9 338.4 805.3 335.7C814.7 333 827.1 330.7 835.5 328.7C843.9 326.7 847.4 325.3 855.6 323.7C863.9 322.1 874.4 320.7 885 318.8C895.6 316.9 909.1 313.8 919.2 312.3C929.3 310.8 936 310.6 945.4 309.7C954.8 308.8 965.6 307.8 975.5 306.9C985.4 305.9 996.8 305 1005 304C1013.2 303 1018.3 302 1025 300.7C1031.7 299.4 1038.5 297.6 1045.2 296.2C1051.9 294.8 1059.7 293.2 1065.4 292.2C1071.1 291.2 1074.5 290.3 1079.5 290.2C1084.5 290.1 1089.6 290.8 1095.5 291.3C1101.4 291.8 1108.4 292.1 1115 293C1121.6 293.9 1128.5 295.1 1135.2 297C1141.9 298.9 1148.7 301.7 1155.4 304.1C1162.1 306.5 1168.8 308.8 1175.5 311.2C1182.2 313.6 1188.9 316.2 1195.6 318.8C1202.3 321.4 1210.8 324.9 1215.7 326.9C1220.6 328.9 1218.5 328.6 1225 330.9C1231.5 333.1 1249.5 338.8 1254.4 340.4" stroke="#ff4136" stroke-width="1.25" fill="none" opacity="0.8"/>
<path d="M0 453.4C1.7 451.7 6.7 446.1 10.1 443.3C13.5 440.5 16.8 438.4 20.2 436.7C23.6 435 27 434.2 30.3 433C33.6 431.8 36.9 430.5 40.3 429.2C43.6 427.9 47.5 426.2 50.4 425.1C53.3 424 55 423.3 57.5 422.6C60 421.9 62.6 421.2 65.6 421.1C68.6 421.1 71.7 421.6 75.6 422.3C79.5 423.1 84.6 423.9 88.8 425.6C93 427.3 97.2 430.2 100.9 432.7C104.6 435.1 107.7 437.6 111 440.3C114.3 443 117.7 445.6 121 448.8C124.3 452 127.9 456.2 131.1 459.4C134.3 462.6 135.4 463.4 140 468C144.6 472.6 151.3 480.6 158.6 487.2C165.9 493.8 177.5 502.7 183.7 507.3C189.9 511.9 191.3 512.9 196 514.7C200.7 516.5 206.9 518.2 212 518C217.1 517.8 220.6 515.9 226.3 513.7C232 511.5 240.7 507 246.4 504.7C252.1 502.4 255.8 502 260.5 500C265.2 498 269.2 495.7 274.6 492.6C280 489.5 286.8 484.9 292.7 481.5C298.6 478.1 305.4 475 310 472.5C314.6 470 315 469.5 320 466.7C325 463.9 333.6 459 340 455.6C346.4 452.2 351.6 449.2 358.4 446.2C365.1 443.2 373.5 440.6 380.5 437.5C387.5 434.4 395.2 430.9 400.6 427.5C406 424.1 409 420.8 412.7 417.4C416.4 414 419.8 409.4 422.7 407.3C425.6 405.2 427 405.6 430 404.8C433 404 436.5 404.5 440.8 402.7C445.1 400.9 450.6 397.1 456 394C461.4 390.9 466.7 389 473.2 384.3C479.7 379.6 487.6 371.8 494.8 366C502 360.2 510.5 354.1 516.4 349.7C522.3 345.3 522.2 346.3 530 339.5C537.8 332.7 555.7 316.3 563.3 308.8C570.9 301.3 570 301.1 575.4 294.7C580.8 288.3 589.8 276.7 595.5 270.5C601.2 264.3 604.9 261 609.6 257.5C614.3 254 619.4 251.1 623.7 249.4C628.1 247.7 632.2 247.6 635.7 247.4C639.2 247.2 641.8 247.8 645 248.2C648.2 248.6 650 248.8 655 249.7C660 250.6 669.3 252.2 675 253.7C680.7 255.2 684.9 257.4 689.3 258.5C693.7 259.6 698 258.9 701.4 260C704.8 261.1 706.4 262.5 709.4 265C712.4 267.5 716.1 272.5 719.5 275.2C722.9 277.9 726.2 279.5 729.6 281.2C733 282.9 735.9 283.3 739.6 285.3C743.3 287.3 747.5 290.8 751.7 293.3C755.9 295.8 761.3 298.7 765 300.4C768.7 302.1 770.3 303.8 774 303.5C777.7 303.2 782 300.2 787.2 298.5C792.4 296.8 799.9 294.1 805.3 293C810.7 291.9 815.4 291.5 819.4 291.9C823.4 292.3 825.4 294.1 829.4 295.5C833.4 296.9 837.8 299.2 843.5 300.5C849.2 301.8 858.2 302.2 863.6 303C869 303.8 872.1 304.6 875.7 305.5C879.3 306.4 881.1 308 885 308.6C888.9 309.2 894.7 308.5 899 309.3C903.3 310.1 906.6 311.5 911 313.3C915.4 315.1 920.8 317.5 925.2 320.3C929.6 323.1 933.3 327.4 937.3 330.4C941.3 333.4 945.4 336.4 949.4 338.4C953.4 340.4 957.1 341.7 961.5 342.5C965.9 343.3 970.8 343.1 975.5 343C980.2 342.9 985.2 342.3 989.6 341.9C994 341.5 997.5 341.6 1001.7 340.5C1005.9 339.4 1010.8 337.3 1015 335.4C1019.2 333.5 1022.8 331.6 1027 329C1031.2 326.4 1035.2 323.4 1040.2 320C1045.2 316.6 1052.4 312.2 1057.3 308.7C1062.2 305.1 1065.7 301.9 1069.4 298.7C1073.1 295.5 1075.7 292 1079.4 289.6C1083.1 287.2 1087.8 285.7 1091.5 284.2C1095.2 282.7 1098.2 281.4 1101.6 280.5C1104.9 279.6 1108.2 279.1 1111.6 279.1C1114.9 279.1 1118.3 279.5 1121.7 280.5C1125.1 281.5 1126.9 281.4 1132.2 285C1137.5 288.6 1147.2 296.1 1153.4 302.1C1159.6 308.1 1164.4 315 1169.4 321.2C1174.4 327.4 1179.1 333.4 1183.5 339.3C1187.9 345.2 1191.6 350.4 1195.6 356.4C1199.6 362.4 1204.7 370.7 1207.7 375.5C1210.7 380.3 1210.7 380.6 1213.5 385C1216.3 389.4 1220.4 395.2 1224.6 401.6C1228.8 408 1233.7 415.5 1238.7 423.2C1243.7 430.9 1252 443.7 1254.7 447.8" stroke="#2ecc40" stroke-width="1.2" opacity="0.9" fill="none"/>
<rect x="60.5" y="548" width="1234.5" height="12.5" fill="#4a9fc0" opacity="0.58"/>
<rect x="764" y="387" width="538" height="12.5" fill="#4a9fc0" opacity="0.58"/>
<rect x="1188" y="487.3" width="105.5" height="7.5" fill="#4a9fc0" opacity="0.58"/>
<path d="M1152.7 397.5L1288.2 487.1" stroke="#2085ad" stroke-width="6.9" stroke-linecap="round" fill="none"/>
<path d="M171.3 569.6L180.6 584.4H175.3V606H167.3V584.4H162Z" fill="#1e9a10"/>
<path d="M1239 569.6L1248.3 584.4H1243V606H1235V584.4H1229.7Z" fill="#1e9a10"/>
<path d="M0 618.5H1335.1M1334.5 69V619.1" stroke="#7a7a7a" stroke-width="1.25" fill="none"/>
<path d="M1334.5 155.5h3M1334.5 239h3M1334.5 322.5h3M1334.5 406h3M1334.5 489.5h3M1334.5 573h3M114.5 618.5v4.6M185.8 618.5v4.6M275.2 618.5v4.6M363.5 618.5v4.6M467.2 618.5v4.6M539.2 618.5v4.6M627.5 618.5v4.6M715.5 618.5v4.6M804.8 618.5v4.6M873.5 618.5v4.6M945.5 618.5v4.6M1034 618.5v4.6M1104.5 618.5v4.6M1224.5 618.5v4.6M1313 618.5v4.6" stroke="#8a8a8a" stroke-width="1.1" fill="none"/>
<text x="1340" y="157.9" class="yl">2700</text>
<text x="1340" y="241.4" class="yl">2600</text>
<text x="1340" y="324.9" class="yl">2500</text>
<text x="1340" y="408.4" class="yl">2400</text>
<text x="1340" y="491.9" class="yl">2300</text>
<text x="1340" y="575.4" class="yl">2200</text>
<text x="115" y="632.6" class="xl" text-anchor="middle">Feb</text>
<text x="186.2" y="632.6" class="xl" text-anchor="middle">7</text>
<text x="275.8" y="632.6" class="xl" text-anchor="middle">14</text>
<text x="364" y="632.6" class="xl" text-anchor="middle">21</text>
<text x="467.8" y="632.6" class="xl" text-anchor="middle">Mar</text>
<text x="539.8" y="632.6" class="xl" text-anchor="middle">7</text>
<text x="628" y="632.6" class="xl" text-anchor="middle">14</text>
<text x="716" y="632.6" class="xl" text-anchor="middle">21</text>
<text x="805.2" y="632.6" class="xl" text-anchor="middle">28</text>
<text x="874" y="632.6" class="xl" text-anchor="middle">Apr</text>
<text x="946" y="632.6" class="xl" text-anchor="middle">7</text>
<text x="1034.5" y="632.6" class="xl" text-anchor="middle">14</text>
<text x="1105" y="632.6" class="xl" text-anchor="middle">21</text>
<text x="1225" y="632.6" class="xl" text-anchor="middle">May</text>
<text x="1313.5" y="632.6" class="xl" text-anchor="middle">7</text>
<text x="-2" y="632.6" class="xl">1</text>
<path d="M1335.5 340.7 L1343.5 333.2 H1384 Q1386 333.2 1386 335.2 V346.2 Q1386 348.2 1384 348.2 H1343.5 Z" fill="#ff4136"/><text x="1383" y="344.4" text-anchor="end" class="pt" fill="#111">2477.33</text>
<path d="M1335.5 447.7 L1343.5 440.2 H1384 Q1386 440.2 1386 442.2 V453.2 Q1386 455.2 1384 455.2 H1343.5 Z" fill="#2ecc40"/><text x="1383" y="451.4" text-anchor="end" class="pt" fill="#111">2349.13</text>
<path d="M1335.5 518 L1343.5 510.5 H1384 Q1386 510.5 1386 512.5 V523.5 Q1386 525.5 1384 525.5 H1343.5 Z" fill="#605caa"/><text x="1383" y="521.7" text-anchor="end" class="pt" fill="#fff">2265.25</text>
</svg>
<div class="legend">
<span style="left:5px;font-weight:bold;color:#111;letter-spacing:0.3px">MA</span>
<span style="left:23px;color:#1f7fe0">20</span>
<span style="left:36.5px;color:#2ecc40">50</span>
<span style="left:50.5px;color:#ff4136">200</span>
<svg style="position:absolute;left:70px;top:-4px" width="32" height="14" viewBox="0 0 32 14">
<g transform="translate(6.5,6.7)" fill="#8e8e8e"><circle r="3.7"/><g>
<rect x="-1.1" y="-5.4" width="2.2" height="10.8"/><rect x="-1.1" y="-5.4" width="2.2" height="10.8" transform="rotate(45)"/>
<rect x="-1.1" y="-5.4" width="2.2" height="10.8" transform="rotate(90)"/><rect x="-1.1" y="-5.4" width="2.2" height="10.8" transform="rotate(135)"/></g>
<circle r="1.9" fill="#fff"/></g>
<path d="M19 3.2L26 10.2M26 3.2L19 10.2" stroke="#8e8e8e" stroke-width="2" fill="none"/>
</svg>
</div>
<div class="titlebar">
<svg style="position:absolute;left:0;top:0" width="1388" height="32" viewBox="0 0 1388 32">
<rect x="5.5" y="5.5" width="20.5" height="20.5" fill="#fff"/>
<path d="M7 11.5H25M7 15.5H25M7 19.5H25M7 23.5H25" stroke="#e4e4e4" stroke-width="1"/>
<path d="M8.2 21.9L13 13.7L17.1 17.1L22.6 9.9" stroke="#1a8c9c" stroke-width="2" fill="none"/>
<circle cx="165.2" cy="13.8" r="3.7" stroke="#eee" stroke-width="1.4" fill="none"/>
<path d="M167.9 16.6L173 21.3" stroke="#eee" stroke-width="1.8" fill="none"/>
<rect x="1324" y="20.2" width="12.2" height="2" fill="#e6e6e6"/>
<rect x="1345" y="14.1" width="8" height="7.4" stroke="#e6e6e6" stroke-width="1.6" fill="#000"/>
<path d="M1349 17.7H1356" stroke="#e6e6e6" stroke-width="1.6" fill="none"/>
<path d="M1354.5 14.8L1357.8 17.7L1354.5 20.6Z" fill="#e6e6e6"/>
<path d="M1355.5 8.3V13.7M1352.8 11H1358.2" stroke="#e6e6e6" stroke-width="1.5" fill="none"/>
<path d="M1366.1 8.6L1379.5 21.9M1379.5 8.6L1366.1 21.9" stroke="#d8d8d8" stroke-width="1.3" fill="none"/>
</svg>
<div class="title">SILVER, DAILY JUL</div>
</div>
<div class="toolbar">
<div class="tb" style="left:9px">4 hours</div><div class="caret" style="left:57.5px"></div>
<div class="tb" style="left:82px">Technical</div><div class="caret" style="left:142px"></div>
<div class="tb" style="left:166px">Display</div><div class="caret" style="left:214px"></div>
<div class="tb" style="left:238px">More</div><div class="caret" style="left:273px"></div>
<svg style="position:absolute;left:295px;top:8.5px" width="105" height="22" viewBox="0 0 105 22">
<path d="M4.5 15.5V5.5Q4.5 4.5 5.5 4.5H8.5L10 6H14.5Q15.5 6 15.5 7V8.5" stroke="#444" stroke-width="1.1" fill="none"/>
<path d="M7 9H18.3L15.3 16.3H4.3Z" fill="#333"/>
<path d="M33 3.5H43.2L46.3 6.6V15.5Q46.3 16.5 45.3 16.5H33Q32 16.5 32 15.5V4.5Q32 3.5 33 3.5Z" fill="#2b2b2b"/>
<rect x="35" y="4.6" width="7.3" height="3.6" fill="#fff"/><rect x="40" y="5.2" width="1.4" height="2.4" fill="#2b2b2b"/>
<rect x="34.3" y="10.8" width="9.7" height="4.3" fill="#fff"/>
<rect x="60" y="8.9" width="12" height="2.6" fill="#000"/>
<rect x="85.2" y="8.9" width="12.6" height="2.6" fill="#000"/><rect x="90.2" y="3.9" width="2.6" height="12.6" fill="#000"/>
</svg>
<div class="cp">CURRENT PRICE:</div>
</div>
<div class="pbox" style="left:1219px;background:#c02a3a">
<svg style="position:absolute;left:5.5px;top:1px" width="9" height="9" viewBox="0 0 9 9"><path d="M2.7 0H6.3V4.2H8.6L4.5 8.8L0.4 4.2H2.7Z" fill="#8d1b2b"/></svg>
<span style="left:14.5px;top:3px;font-size:13.2px;line-height:16px;letter-spacing:0.5px">2263.</span>
<span style="left:50.8px;top:6.5px;font-size:9.2px;line-height:11px;letter-spacing:0.6px">75</span>
</div>
<div class="pbox" style="left:1307px;background:#1a8c9c">
<svg style="position:absolute;left:64.5px;top:1.2px" width="9" height="9" viewBox="0 0 9 9"><path d="M4.5 0L8.6 4.6H6.3V8.8H2.7V4.6H0.4Z" fill="#0f626e"/></svg>
<span style="left:15px;top:3px;font-size:13.2px;line-height:16px;letter-spacing:0.5px">2266.</span>
<span style="left:51.3px;top:6.5px;font-size:9.2px;line-height:11px;letter-spacing:0.6px">75</span>
</div>
</body></html>
